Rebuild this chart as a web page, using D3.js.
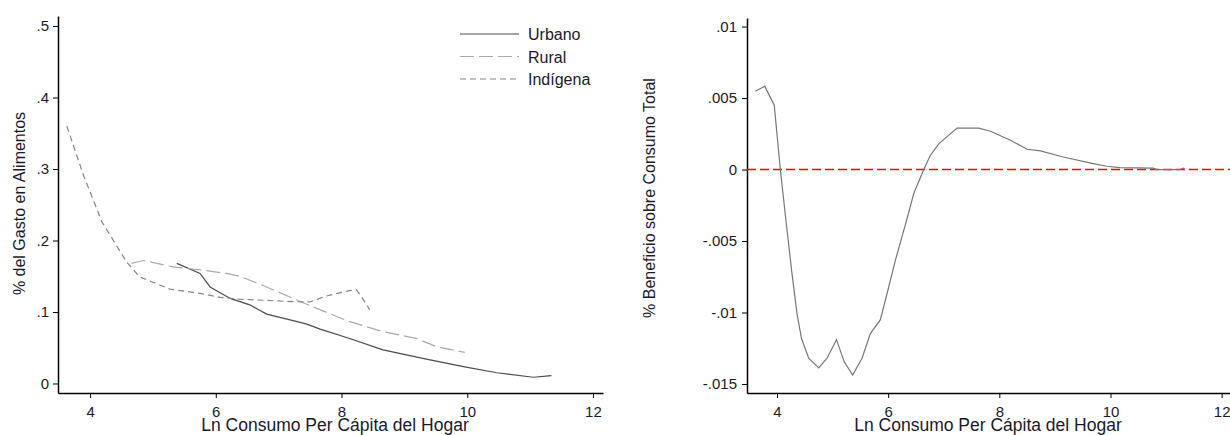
<!DOCTYPE html>
<html>
<head>
<meta charset="utf-8">
<script src="https://cdn.jsdelivr.net/npm/d3@7"></script>
<style>
  body { margin: 0; background: #fff; }
  svg text { font-family: "Liberation Sans", Arial, sans-serif; fill: #1a1a2a; }
</style>
</head>
<body>
<svg id="chart" width="1230" height="435"></svg>
<script>
// Left panel: food expenditure share by log consumption
const urbanoX   = [5.38, 5.75, 5.91, 6.23, 6.54, 6.81, 7.23, 7.45, 7.66, 8.13, 8.66, 9.35, 9.94, 10.47, 11.05, 11.34];
const urbanoY   = [0.168, 0.154, 0.135, 0.119, 0.110, 0.097, 0.088, 0.083, 0.076, 0.063, 0.047, 0.034, 0.0235, 0.015, 0.0087, 0.011];
const ruralX    = [4.66, 4.85, 5.32, 5.75, 6.17, 6.38, 6.81, 7.23, 7.55, 8.13, 8.66, 9.19, 9.51, 9.96];
const ruralY    = [0.168, 0.172, 0.163, 0.159, 0.154, 0.150, 0.135, 0.119, 0.107, 0.0865, 0.0725, 0.063, 0.0515, 0.0436];
const indigenaX = [3.63, 3.9, 4.19, 4.58, 4.79, 5.27, 5.75, 6.07, 6.38, 7.23, 7.5, 7.74, 8.13, 8.24, 8.32, 8.45];
const indigenaY = [0.36, 0.29, 0.226, 0.170, 0.149, 0.132, 0.126, 0.1205, 0.118, 0.1144, 0.114, 0.122, 0.130, 0.131, 0.121, 0.103];

// Right panel: benefit as share of total consumption
const benefX = [3.61, 3.78, 3.95, 4.06, 4.16, 4.27, 4.36, 4.44, 4.57, 4.75, 4.90, 5.07, 5.21, 5.36, 5.53, 5.68, 5.86, 5.98, 6.13, 6.34, 6.46, 6.64, 6.76, 6.91, 7.24, 7.63, 7.84, 8.20, 8.50, 8.74, 9.15, 9.69, 9.93, 10.17, 10.77, 10.83, 11.25, 11.31, 11.34];
const benefY = [0.00547, 0.00583, 0.0045, 0, -0.00355, -0.0073, -0.0101, -0.0118, -0.0132, -0.01387, -0.0132, -0.0119, -0.01345, -0.01438, -0.0132, -0.01147, -0.0105, -0.00867, -0.00634, -0.00343, -0.00168, 0, 0.001, 0.0018, 0.0029, 0.0029, 0.00268, 0.00205, 0.00142, 0.0013, 0.00088, 0.00042, 0.00023, 0.00014, 0.0001, 0, 0, 0.0001, 0];

const xTicks      = [4, 6, 8, 10, 12];
const leftYTicks  = [0, 0.1, 0.2, 0.3, 0.4, 0.5];
const rightYTicks = [-0.015, -0.01, -0.005, 0, 0.005, 0.01];
const legendNames = ["Urbano", "Rural", "Indígena"];

const xLabel     = "Ln Consumo Per Cápita del Hogar";
const leftTitle  = "% del Gasto en Alimentos";
const rightTitle = "% Beneficio sobre Consumo Total";

const svg = d3.select("#chart");

// Stata style: drop the leading zero, plain hyphen for negatives
const stataFmt = v => String(v).replace(/^(-?)0\./, "$1.");

const styles = [
  {stroke: "#4d4d4d", dash: null},
  {stroke: "#ababab", dash: "14,5"},
  {stroke: "#858585", dash: "6,4"}
];

function drawAxes(g, x, y, yTicks, yPad) {
  g.append("g")
    .attr("transform", "translate(0," + y.range()[0] + ")")
    .call(d3.axisBottom(x).tickValues(xTicks).tickSize(5).tickSizeOuter(0).tickPadding(8))
    .call(a => a.select(".domain").attr("stroke", "#000").attr("stroke-width", 1.5))
    .call(a => a.selectAll("text").style("font-size", "15px"));

  g.append("g")
    .attr("transform", "translate(" + x.range()[0] + ",0)")
    .call(d3.axisLeft(y).tickValues(yTicks).tickFormat(stataFmt).tickSize(5).tickSizeOuter(0).tickPadding(yPad))
    .call(a => a.select(".domain").attr("stroke", "#000").attr("stroke-width", 1.5))
    .call(a => a.selectAll("text").style("font-size", "15px"));
}

function line(x, y) {
  return d3.line().x(d => x(d[0])).y(d => y(d[1]));
}

////////////////
//   Left     //
////////////////
let xl = d3.scaleLinear().domain([3.49, 12.16]).range([58, 603]),
    yl = d3.scaleLinear().domain([-0.0133, 0.514]).range([393, 16]),
    gl = svg.append("g");

drawAxes(gl, xl, yl, leftYTicks, 4);

let leftSeries = [
  d3.zip(urbanoX, urbanoY),
  d3.zip(ruralX, ruralY),
  d3.zip(indigenaX, indigenaY)
];

leftSeries.forEach((s, i) => {
  gl.append("path")
    .datum(s)
    .attr("fill", "none")
    .attr("stroke", styles[i].stroke)
    .attr("stroke-width", 1.2)
    .attr("stroke-dasharray", styles[i].dash)
    .attr("d", line(xl, yl));
});

// Legend
let legend = gl.append("g").attr("transform", "translate(460,34)");
legendNames.forEach((name, i) => {
  let row = legend.append("g").attr("transform", "translate(0," + (i * 22.5) + ")");
  row.append("line")
    .attr("x1", 0).attr("x2", 59)
    .attr("stroke", styles[i].stroke)
    .attr("stroke-width", 1.2)
    .attr("stroke-dasharray", styles[i].dash);
  row.append("text")
    .attr("x", 68).attr("y", 6)
    .style("font-size", "16px")
    .text(name);
});

gl.append("text")
  .attr("x", 335).attr("y", 431)
  .attr("text-anchor", "middle")
  .style("font-size", "17.5px")
  .text(xLabel);

gl.append("text")
  .attr("transform", "translate(25,203.5) rotate(-90)")
  .attr("text-anchor", "middle")
  .style("font-size", "16px")
  .text(leftTitle);

////////////////
//   Right    //
////////////////
let xr = d3.scaleLinear().domain([3.46, 12.24]).range([747, 1235]),
    yr = d3.scaleLinear().domain([-0.01563, 0.0106]).range([393, 18]),
    gr = svg.append("g");

drawAxes(gr, xr, yr, rightYTicks, 5);

gr.append("line")
  .attr("x1", xr.range()[0]).attr("x2", xr.range()[1])
  .attr("y1", yr(0)).attr("y2", yr(0))
  .attr("stroke", "#ff0000")
  .attr("stroke-width", 1.5)
  .attr("stroke-dasharray", "9,4");

gr.append("path")
  .datum(d3.zip(benefX, benefY))
  .attr("fill", "none")
  .attr("stroke", "#777")
  .attr("stroke-width", 1.2)
  .attr("d", line(xr, yr));

gr.append("text")
  .attr("x", 988).attr("y", 431)
  .attr("text-anchor", "middle")
  .style("font-size", "17.5px")
  .text(xLabel);

gr.append("text")
  .attr("transform", "translate(655,198) rotate(-90)")
  .attr("text-anchor", "middle")
  .style("font-size", "16px")
  .text(rightTitle);
</script>
</body>
</html>
